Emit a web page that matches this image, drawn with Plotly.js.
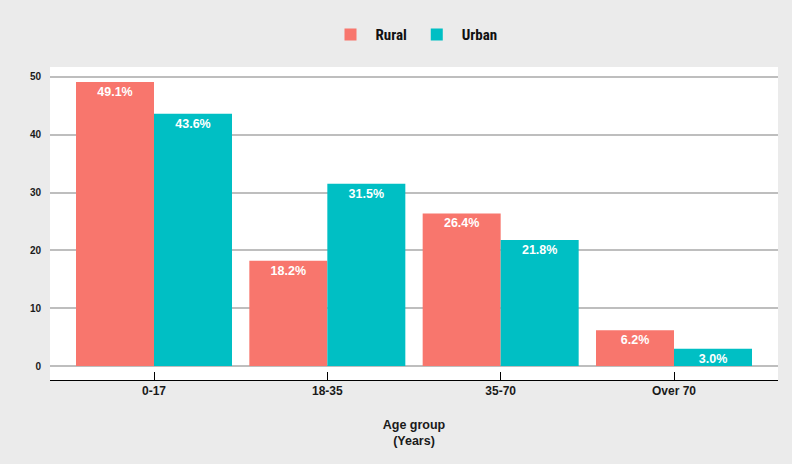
<!DOCTYPE html>
<html>
<head>
<meta charset="utf-8">
<script src="https://cdn.plot.ly/plotly-3.0.1.min.js"></script>
<style>html,body{margin:0;padding:0;background:#ebebeb;}#chart{width:792px;height:464px;}</style>
</head>
<body>
<div id="chart"></div>
<script>
const categories = ["0-17", "18-35", "35-70", "Over 70"];
const rural = [49.1, 18.2, 26.4, 6.2];
const urban = [43.6, 31.5, 21.8, 3.0];
const yTicks = [0, 10, 20, 30, 40, 50];

function series(name, values, color) {
  return {
    type: "bar",
    name: name,
    x: categories,
    y: values,
    marker: {color: color},
    text: values.map(v => v.toFixed(1) + "%"),
    textposition: "inside",
    insidetextanchor: "end",
    textangle: 0,
    textfont: {family: "Liberation Sans, Arial, sans-serif", size: 12.5, color: "#ffffff", weight: "bold"},
    hoverinfo: "x+y"
  };
}

const data = [series("Rural", rural, "#f8766d"), series("Urban", urban, "#00bfc4")];

const layout = {
  width: 792,
  height: 464,
  paper_bgcolor: "#ebebeb",
  plot_bgcolor: "#ffffff",
  margin: {l: 50, r: 14, t: 67, b: 84},
  barmode: "group",
  bargap: 0.1,
  bargroupgap: 0,
  uniformtext: {mode: "show", minsize: 12.5},
  showlegend: true,
  legend: {
    orientation: "h",
    x: 0.5, xanchor: "center",
    y: 0.925, yanchor: "middle",
    yref: "container",
    font: {family: "Liberation Sans Narrow, Roboto Condensed, Liberation Sans, sans-serif", size: 15, color: "#111111", weight: "bold"},
    itemwidth: 40,
    bgcolor: "rgba(0,0,0,0)"
  },
  xaxis: {
    type: "category",
    range: [-0.6, 3.6],
    showgrid: false,
    showline: true,
    linecolor: "#000000",
    linewidth: 1,
    ticks: "inside",
    ticklen: 8,
    tickcolor: "#000000",
    tickwidth: 1,
    tickfont: {family: "Liberation Sans, Arial, sans-serif", size: 12, color: "#1a1a1a", weight: "bold"},
    title: {text: "Age group<br>(Years)", font: {family: "Liberation Sans, Arial, sans-serif", size: 12.5, color: "#1a1a1a", weight: "bold"}, standoff: 22},
    fixedrange: true
  },
  yaxis: {
    range: [-2.4, 51.7],
    tickvals: yTicks,
    ticktext: yTicks.map(String),
    showgrid: true,
    gridcolor: "#bebebe",
    gridwidth: 2,
    zeroline: false,
    showline: false,
    ticks: "",
    tickfont: {family: "Liberation Sans, Arial, sans-serif", size: 10, color: "#1a1a1a", weight: "bold"},
    ticklabelstandoff: 8,
    fixedrange: true
  }
};

Plotly.newPlot("chart", data, layout, {displayModeBar: false, staticPlot: true});
</script>
</body>
</html>
